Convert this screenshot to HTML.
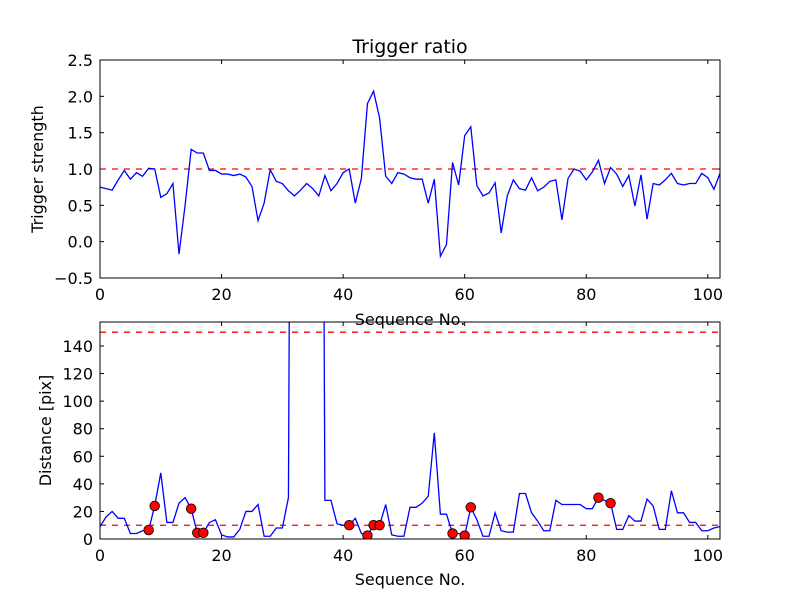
<!DOCTYPE html>
<html><head><meta charset="utf-8"><style>
html,body{margin:0;padding:0;background:#fff}
svg{display:block;font-family:"DejaVu Sans","Liberation Sans",sans-serif}
</style></head><body>
<svg id="fig" width="800" height="600" viewBox="0 0 800 600"></svg>
<script>
const xTicks=[0,20,40,60,80,100];
const topYTicks=[-0.5,0.0,0.5,1.0,1.5,2.0,2.5];
const topYLabels=["\u22120.5","0.0","0.5","1.0","1.5","2.0","2.5"];
const botYTicks=[0,20,40,60,80,100,120,140];
const ratio=[0.75,0.73,0.71,0.85,0.98,0.86,0.95,0.90,1.01,1.00,0.61,0.66,0.80,-0.17,0.50,1.27,1.22,1.22,0.98,0.98,0.93,0.93,0.91,0.93,0.89,0.76,0.29,0.53,0.99,0.83,0.80,0.70,0.63,0.71,0.80,0.73,0.63,0.91,0.70,0.80,0.95,1.00,0.53,0.87,1.90,2.07,1.70,0.90,0.80,0.95,0.93,0.88,0.86,0.86,0.53,0.86,-0.20,-0.04,1.09,0.78,1.46,1.58,0.77,0.63,0.67,0.81,0.12,0.63,0.85,0.73,0.71,0.88,0.70,0.75,0.83,0.85,0.30,0.87,1.00,0.97,0.85,0.96,1.12,0.80,1.02,0.93,0.76,0.91,0.49,0.92,0.31,0.80,0.78,0.85,0.94,0.80,0.78,0.80,0.80,0.94,0.88,0.72,0.94];
const distance=[9,16,20,15,15,4,4,6,6.5,24,48,12,12,26,30,22,4.5,4.5,12,14,3,1.5,1.5,7,20,20,25,2,2,8,8,30,1000,1000,1000,1000,1000,28,28,11,10,10,15,4,2.5,10,10,25,3,2,2,23,23,26,31,77,18,18,4,4,2.5,23,14,2,2,19,6,5,5,33,33,19,13,6,6,28,25,25,25,25,22,22,30,28,26,7,7,17,13,13,29,24,7,7,35,19,19,12,12,6,6,8,9];
const markerIdx=[8,9,15,16,17,41,44,45,46,58,60,61,82,84];
const markerVal=[6.5,24,22,4.5,4.5,10,2.5,10,10,4,2.5,23,30,26];
const topThreshold=[1.0];
const botThresholds=[10,150];

const NS="http://www.w3.org/2000/svg";
const svg=document.getElementById('fig');
function mk(tag,attrs,parent){const e=document.createElementNS(NS,tag);for(const k in attrs)e.setAttribute(k,attrs[k]);(parent||svg).appendChild(e);return e;}
const L=100,R=720,xMax=102;
const sx=v=>L+(R-L)*v/xMax;

const clip=mk('defs',{});
const cp=mk('clipPath',{id:'cb'},clip);mk('rect',{x:L,y:322,width:R-L,height:217},cp);

function axes(top,bot,yMin,yMax,yTicks,yLabels,name,ylabel,xlabelY,ylabelX){
  const sy=v=>bot-(bot-top)*(v-yMin)/(yMax-yMin);
  const g=mk('g',{});
  
  
  xTicks.forEach(t=>{const x=sx(t);
    mk('line',{x1:x,y1:bot,x2:x,y2:bot-4,stroke:'#000'},g);
    mk('line',{x1:x,y1:top,x2:x,y2:top+4,stroke:'#000'},g);
    const tx=mk('text',{x:x,y:bot+22,'font-size':16,'text-anchor':'middle'},g);tx.textContent=t;
    
    
  });
  yTicks.forEach((t,i)=>{const y=sy(t);
    mk('line',{x1:L,y1:y,x2:L+4,y2:y,stroke:'#000'},g);
    mk('line',{x1:R,y1:y,x2:R-4,y2:y,stroke:'#000'},g);
    const tx=mk('text',{x:L-7,y:y+6,'font-size':16,'text-anchor':'end'},g);tx.textContent=yLabels[i];
    
    
  });
  const xl=mk('text',{x:(L+R)/2,y:xlabelY,'font-size':16,'text-anchor':'middle'},g);xl.textContent='Sequence No.';
  
  
  const yl=mk('text',{x:0,y:0,'font-size':16,'text-anchor':'middle',transform:`translate(${ylabelX},${(top+bot)/2}) rotate(-90)`},g);yl.textContent=ylabel;
  
  
  return sy;
}

// top
const syT=axes(60,278,-0.5,2.5,topYTicks,topYLabels,'top-axes','Trigger strength',325,43);
topThreshold.forEach(v=>{const l=mk('line',{x1:L,x2:R,y1:syT(v),y2:syT(v),stroke:'#f00','stroke-width':1.3,'stroke-dasharray':'6,6'});
  
  });
const p1=mk('polyline',{points:ratio.map((v,i)=>sx(i)+','+syT(v)).join(' '),fill:'none',stroke:'#00f','stroke-width':1.3});


mk('rect',{x:L,y:60,width:R-L,height:218,fill:'none',stroke:'#000','stroke-width':1});
const title=mk('text',{x:410,y:53,'font-size':19,'text-anchor':'middle'});title.textContent='Trigger ratio';



// bottom
const syB=axes(322,539,0,157.4,botYTicks,botYTicks.map(String),'bottom-axes','Distance [pix]',585,51);
const gb=mk('g',{'clip-path':'url(#cb)'});
botThresholds.forEach(v=>{const l=mk('line',{x1:L,x2:R,y1:syB(v),y2:syB(v),stroke:'#f00','stroke-width':1.3,'stroke-dasharray':'6,6'},gb);
  
  });
const p2=mk('polyline',{points:distance.map((v,i)=>sx(i)+','+syB(v)).join(' '),fill:'none',stroke:'#00f','stroke-width':1.3},gb);


markerIdx.forEach((ix,k)=>{const c=mk('circle',{cx:sx(ix),cy:syB(markerVal[k]),r:4.8,fill:'#f00',stroke:'#000','stroke-width':0.8},gb);
  
  });
mk('rect',{x:L,y:322,width:R-L,height:217,fill:'none',stroke:'#000','stroke-width':1});
</script>
</body></html>
